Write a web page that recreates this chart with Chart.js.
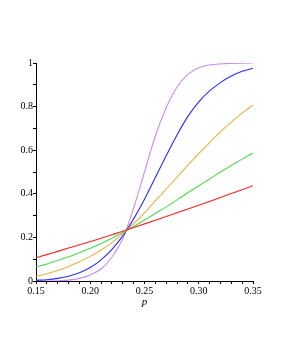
<!DOCTYPE html>
<html>
<head>
<meta charset="utf-8">
<script src="https://cdn.jsdelivr.net/npm/chart.js@4"></script>
<style>
  html, body { margin: 0; padding: 0; background: #fff; }
  #wrap { width: 281px; height: 363px; }
</style>
</head>
<body>
<div id="wrap"><canvas id="myChart"></canvas></div>
<script>
var pValues = [0.15,0.16,0.17,0.18,0.19,0.20,0.21,0.22,0.23,0.24,0.25,0.26,0.27,0.28,0.29,0.30,0.31,0.32,0.33,0.34,0.35];

var redValues    = [0.107,0.121,0.136,0.151,0.166,0.181,0.196,0.212,0.228,0.245,0.262,0.279,0.296,0.313,0.330,0.347,0.365,0.383,0.401,0.419,0.437];
var greenValues  = [0.064,0.078,0.094,0.111,0.130,0.150,0.172,0.196,0.222,0.250,0.280,0.310,0.340,0.372,0.405,0.437,0.468,0.500,0.530,0.559,0.587];
var orangeValues = [0.022,0.033,0.048,0.066,0.088,0.113,0.142,0.176,0.217,0.263,0.313,0.367,0.422,0.477,0.531,0.584,0.635,0.684,0.729,0.770,0.807];
var blueValues   = [0.003,0.006,0.012,0.022,0.038,0.062,0.097,0.145,0.207,0.285,0.375,0.475,0.575,0.670,0.755,0.822,0.872,0.910,0.940,0.962,0.976];
var purpleValues = [0.000,0.000,0.001,0.004,0.012,0.028,0.055,0.110,0.195,0.335,0.500,0.665,0.795,0.890,0.948,0.978,0.991,0.996,0.998,0.999,1.000];

function pts(vals) {
  return vals.map(function (v, i) { return {x: pValues[i], y: v}; });
}

function line(vals, color) {
  return {
    data: pts(vals),
    borderColor: color,
    borderWidth: 1.1,
    pointRadius: 0,
    fill: false,
    cubicInterpolationMode: "monotone"
  };
}

var tickFont = {family: "Liberation Serif", size: 10};

new Chart("myChart", {
  type: "line",
  data: {
    datasets: [
      line(redValues, "#ff2020"),
      line(greenValues, "#50d850"),
      line(orangeValues, "#e8b040"),
      line(blueValues, "#2a2aff"),
      line(purpleValues, "#c88cf0")
    ]
  },
  options: {
    responsive: true,
    maintainAspectRatio: false,
    animation: false,
    layout: {padding: {top: 63, right: 28, bottom: 54, left: 0}},
    plugins: {legend: {display: false}, tooltip: {enabled: false}},
    scales: {
      x: {
        type: "linear",
        min: 0.15,
        max: 0.35,
        afterFit: function (s) { s.height = 28; },
        border: {display: true, color: "#000", width: 1},
        grid: {drawOnChartArea: false, drawTicks: true, tickLength: 3, tickColor: "#000"},
        ticks: {
          stepSize: 0.01,
          autoSkip: false,
          maxRotation: 0,
          padding: 1,
          color: "#000",
          font: tickFont,
          callback: function (v) {
            var k = Math.round(v * 100);
            return k % 5 === 0 ? (k / 100).toFixed(2) : "";
          }
        },
        title: {display: true, text: "p", color: "#000", padding: 0,
                font: {family: "Liberation Serif", size: 11, style: "italic"}}
      },
      y: {
        min: 0,
        max: 1,
        afterFit: function (s) { s.width = 36; },
        border: {display: true, color: "#000", width: 1},
        grid: {drawOnChartArea: false, drawTicks: true, tickLength: 3, tickColor: "#000"},
        ticks: {
          stepSize: 0.1,
          autoSkip: false,
          padding: 0,
          color: "#000",
          font: tickFont,
          callback: function (v) {
            var k = Math.round(v * 10);
            if (k % 2 !== 0) return "";
            if (k === 0) return "0";
            if (k === 10) return "1";
            return (k / 10).toFixed(1);
          }
        }
      }
    }
  }
});
</script>
</body>
</html>
